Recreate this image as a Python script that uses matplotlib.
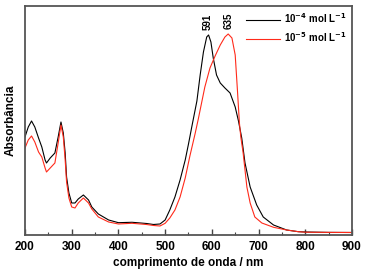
import matplotlib
matplotlib.use("Agg")
import matplotlib.pyplot as plt
from matplotlib.ticker import MultipleLocator

plt.rcParams['font.family'] = ['Liberation Sans', 'DejaVu Sans']

# Data (arbitrary absorbance units)
wl_1e4 = [200, 207, 214, 221, 229, 236, 243, 246, 254, 264, 271, 277, 282, 286, 289,
          294, 300, 307, 314, 325, 336, 343, 357, 379, 400, 429, 460, 475, 489, 500,
          510, 521, 532, 543, 550, 557, 568, 575, 582, 589, 593, 598, 603, 610, 618,
          628, 639, 650, 657, 664, 671, 682, 696, 710, 732, 760, 785, 800, 850, 900]
abs_1e4 = [0.98, 1.08, 1.14, 1.08, 0.97, 0.88, 0.75, 0.72, 0.77, 0.82, 0.98, 1.13, 1.02, 0.82, 0.58,
           0.42, 0.32, 0.32, 0.36, 0.40, 0.35, 0.28, 0.21, 0.15, 0.123, 0.127, 0.115, 0.105, 0.11, 0.15,
           0.25, 0.38, 0.55, 0.75, 0.91, 1.08, 1.34, 1.60, 1.83, 1.98, 2.00, 1.93, 1.77, 1.60, 1.52,
           1.47, 1.42, 1.28, 1.14, 0.97, 0.72, 0.48, 0.30, 0.18, 0.10, 0.05, 0.033, 0.03, 0.026, 0.025]

wl_1e5 = [200, 207, 214, 221, 229, 236, 243, 246, 254, 264, 271, 277, 282, 286, 289,
          294, 300, 307, 314, 325, 336, 343, 357, 379, 400, 429, 460, 475, 489, 500,
          510, 521, 532, 543, 553, 564, 571, 578, 585, 596, 607, 618, 628, 635, 643,
          650, 655, 659, 662, 667, 675, 682, 692, 707, 732, 760, 785, 800, 850, 900]
abs_1e5 = [0.87, 0.95, 0.99, 0.93, 0.83, 0.78, 0.67, 0.63, 0.67, 0.72, 0.92, 1.10, 0.98, 0.75, 0.53,
           0.37, 0.28, 0.27, 0.32, 0.37, 0.32, 0.26, 0.18, 0.13, 0.11, 0.117, 0.105, 0.095, 0.09, 0.117,
           0.17, 0.25, 0.38, 0.57, 0.79, 1.01, 1.16, 1.32, 1.48, 1.67, 1.79, 1.90, 1.98, 2.01, 1.97,
           1.80, 1.43, 1.12, 0.98, 0.82, 0.48, 0.32, 0.18, 0.12, 0.077, 0.05, 0.033, 0.028, 0.026, 0.025]

peak_labels = ["591", "635"]
peak_pos = [591, 635]
peak_height = [2.00, 2.01]

fig = plt.figure(figsize=(3.66, 2.76), dpi=100)
ax = fig.add_axes([0.0683, 0.1486, 0.8934, 0.8297])

ax.plot(wl_1e4, abs_1e4, color="black", lw=0.8, label="10$^{\\mathbf{-4}}$ mol L$^{\\mathbf{-1}}$")
ax.plot(wl_1e5, abs_1e5, color="#ff2a1a", lw=0.8, label="10$^{\\mathbf{-5}}$ mol L$^{\\mathbf{-1}}$")

for txt, x, h in zip(peak_labels, peak_pos, peak_height):
    ax.text(x, h + 0.05, txt, rotation=90, ha="center", va="bottom",
            fontsize=7, fontweight="bold")

ax.set_xlim(200, 900)
ax.set_ylim(0, 2.29)
ax.xaxis.set_major_locator(MultipleLocator(100))
ax.xaxis.set_minor_locator(MultipleLocator(50))
ax.set_yticks([])
ax.tick_params(axis="x", which="major", direction="in", length=4, width=1, pad=4,
               labelsize=8.5, colors="#444444", labelcolor="black")
ax.tick_params(axis="x", which="minor", direction="in", length=2, width=0.8, colors="#444444")
for lab in ax.get_xticklabels():
    lab.set_fontweight("bold")

for s in ax.spines.values():
    s.set_color("#555555")
    s.set_linewidth(1.3)

ax.set_xlabel("comprimento de onda / nm", fontsize=8.5, fontweight="bold", labelpad=3)
ax.set_ylabel("Absorbância", fontsize=8.5, fontweight="bold", labelpad=6)

leg = ax.legend(loc="upper right", frameon=False, handlelength=3.5,
                borderaxespad=0.15, labelspacing=0.55, handletextpad=0.4,
                prop={"weight": "bold", "size": 7})

fig.savefig("out.png", dpi=100)
